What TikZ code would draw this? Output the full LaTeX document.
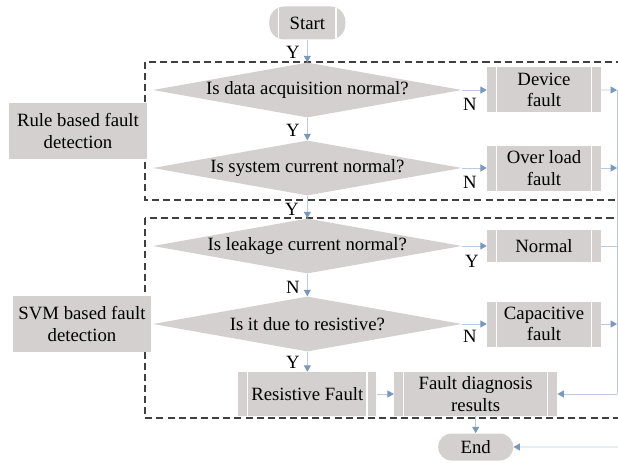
\documentclass[tikz,border=0pt]{standalone}
\usepackage{fontspec}
\setmainfont{Liberation Serif}
\usetikzlibrary{shapes,arrows.meta,positioning}
\definecolor{boxgray}{RGB}{212,208,208}
\definecolor{flowblue}{RGB}{184,203,222}
\definecolor{tipblue}{RGB}{120,153,189}
\definecolor{dashgray}{RGB}{64,64,64}
\tikzstyle{stripes} = [path picture={
  \draw[white, line width=0.9pt] ([xshift=0.28cm]path picture bounding box.north west) -- ([xshift=0.28cm]path picture bounding box.south west);
  \draw[white, line width=0.9pt] ([xshift=-0.28cm]path picture bounding box.north east) -- ([xshift=-0.28cm]path picture bounding box.south east);}]
\tikzstyle{block} = [rectangle, fill=boxgray, align=center, inner sep=0pt, minimum width=3.42cm, minimum height=1.35cm, stripes]
\tikzstyle{decision} = [diamond, fill=boxgray, aspect=5.6, inner sep=0pt, minimum width=9.27cm, minimum height=1.65cm]
\tikzstyle{stage} = [rectangle, fill=boxgray, align=center, minimum width=4.14cm, minimum height=1.7cm]
\tikzstyle{startstop} = [rectangle, rounded corners=0.4cm, fill=boxgray, minimum width=2.25cm, minimum height=0.81cm]
\tikzstyle{line} = [draw=flowblue, line width=0.8pt, -{Triangle[length=5.5pt,width=6pt,color=tipblue]}]
\tikzstyle{link} = [draw=flowblue, line width=0.8pt]
\tikzstyle{yn} = [inner sep=0pt]
\tikzstyle{zone} = [draw=dashgray, line width=0.9pt, dash pattern=on 6pt off 3.5pt]

\begin{document}
\begin{tikzpicture}[node distance = 2.34cm, auto, every node/.style={font=\fontsize{16}{18.5}\selectfont}]
      \useasboundingbox (0,0) rectangle (18.54,-13.86);
      % the two detection stages
      \draw [zone] (4.35,-1.86) rectangle (18.9,-6.0);
      \draw [zone] (4.35,-6.54) rectangle (18.9,-12.54);

      \node [startstop, minimum width=2.28cm, minimum height=0.99cm, rounded corners=0.45cm, stripes] (start) at (9.22,-0.69) {Start};
      \node [decision, below of=start, node distance=2.01cm] (data) {Is data acquisition normal?};
      \node [decision, below of=data] (current) {Is system current normal?};
      \node [decision, below of=current] (leak) {Is leakage current normal?};
      \node [decision, below of=leak] (resist) {Is it due to resistive?};
      \node [block, below of=resist, node distance=2.1cm, minimum width=4.14cm, minimum height=1.32cm] (resfault) {Resistive Fault};
      \node [block, right of=resfault, node distance=5.05cm, minimum width=4.89cm, minimum height=1.32cm] (results) {Fault diagnosis\\results};
      \node [startstop, below of=results, node distance=1.59cm] (stop) {End};

      \node [block, right of=data, node distance=7.1cm] (device) {Device\\fault};
      \node [block, right of=current, node distance=7.1cm] (overload) {Over load\\fault};
      \node [block, right of=leak, node distance=7.1cm, minimum height=0.96cm] (normal) {Normal};
      \node [block, right of=resist, node distance=7.1cm] (capacitive) {Capacitive\\fault};

      \node [stage] (rule) at (2.34,-3.93) {Rule based fault\\detection};
      \node [stage] (svm) at (2.46,-9.72) {SVM based fault\\detection};

      \coordinate (bus) at (18.51,-2.7);
      \coordinate (busend) at (bus |- results);
      \coordinate (offpage) at (18.9,-13.41);

      % yes / no marks
      \node [yn] (ystart) at (8.79,-1.56) {Y};
      \node [yn] (ydata) at (8.79,-3.9) {Y};
      \node [yn] (ndata) at (14.1,-3.12) {N};
      \node [yn] (ncurrent) at (14.1,-5.46) {N};
      \node [yn] (ycurrent) at (8.76,-6.27) {Y};
      \node [yn] (yleak) at (14.16,-7.83) {Y};
      \node [yn] (nleak) at (8.79,-8.61) {N};
      \node [yn] (nresist) at (14.1,-10.08) {N};
      \node [yn] (yresist) at (8.79,-10.86) {Y};

      \path [line] (start) -- (data);
      \path [line] (data) -- (current);
      \path [line] (current) -- (leak);
      \path [line] (leak) -- (resist);
      \path [line] (resist) -- (resfault);
      \path [line] (resfault) -- (results);
      \path [line] (results) -- (stop);
      \path [line] (data.east) -- (device);
      \path [line] (current.east) -- (overload);
      \path [line] (leak.east) -- (normal);
      \path [line] (resist.east) -- (capacitive);
      \path [line] (device.east) -- (bus);
      \path [line] (overload.east) -- (overload.east -| bus);
      \path [link] (normal.east) -- (normal.east -| bus);
      \path [line] (capacitive.east) -- (capacitive.east -| bus);
      \path [link] (bus) -- (busend);
      \path [line] (busend) -- (results.east);
      \path [line] (offpage) -- (stop);
    \end{tikzpicture}
\end{document}
